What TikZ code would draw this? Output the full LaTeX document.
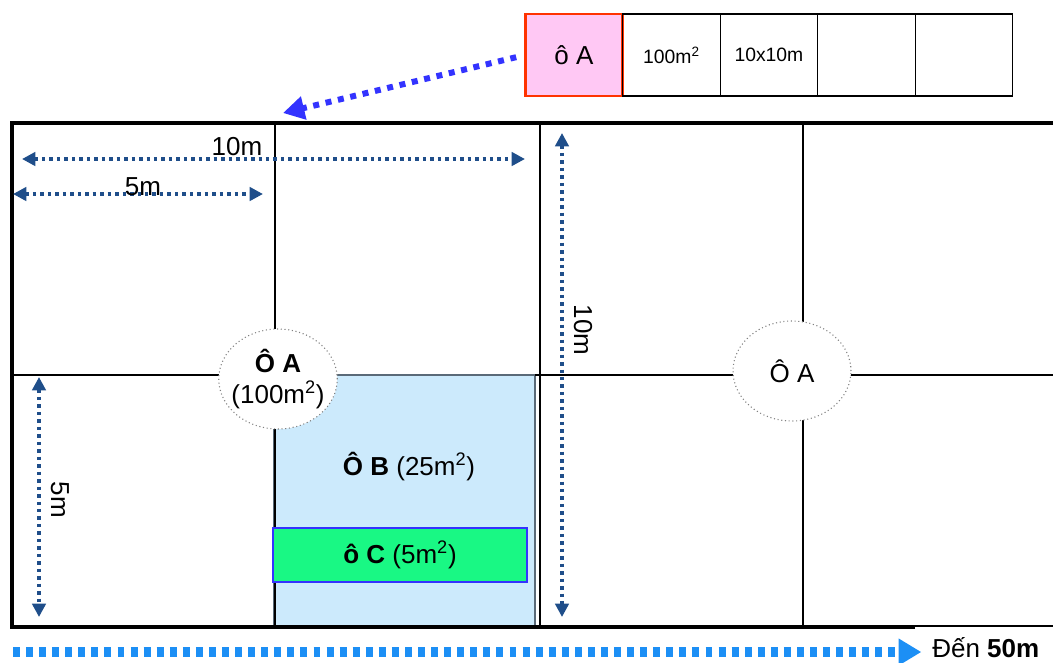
\documentclass[tikz,border=0pt]{standalone}
\usepackage{fontspec}
\setmainfont{Liberation Sans}
\usetikzlibrary{arrows.meta,positioning,shapes.geometric}
\definecolor{dimblue}{HTML}{1F4E8A}
\definecolor{linkblue}{HTML}{3333FF}
\definecolor{runblue}{HTML}{1C8FF5}
\definecolor{cellpink}{HTML}{FFC8F4}
\definecolor{cellred}{HTML}{FF3300}
\definecolor{plotblue}{HTML}{CCEAFC}
\definecolor{plotgreen}{HTML}{19F884}
\definecolor{plotedge}{HTML}{5A6A78}

\begin{document}
\begin{tikzpicture}[x=0.75pt,y=-0.75pt,
    big/.style={font=\fontsize{19.5}{23}\selectfont},
    cell/.style={rectangle,draw,line width=0.9pt,minimum width=73.1pt,minimum height=61.5pt,inner sep=0pt,outer sep=0pt,font=\fontsize{14.5}{17}\selectfont},
    keycell/.style={cell,fill=cellpink,draw=cellred,line width=2pt,big},
    oval/.style={ellipse,draw=gray,dotted,line width=0.8pt,fill=white,minimum width=88.5pt,minimum height=75pt,inner xsep=-3.5pt,inner ysep=0pt,align=center,big},
    lbl/.style={big,inner sep=0pt},
    gridline/.style={line width=1.1pt},
    frame/.style={line width=2.4pt},
    dimarrow/.style={draw=dimblue,line width=2.6pt,dash pattern=on 2.6pt off 3pt,{Triangle[length=10pt,width=10pt]}-{Triangle[length=10pt,width=10pt]}},
    linkarrow/.style={draw=linkblue,line width=4.5pt,dash pattern=on 4.5pt off 5pt,-{Triangle[length=16pt,width=17pt]}},
    runarrow/.style={draw=runblue,line width=7.5pt,dash pattern=on 5.2pt off 4.6pt,-{Triangle[length=17pt,width=19pt]}}]
  \useasboundingbox (0,0) rectangle (1053,662);

  \node[keycell] (cA) at (574,55) {ô A};
  \node[cell] (cArea) [right=0pt of cA] {100m\textsuperscript{2}};
  \node[cell] (cSize) [right=0pt of cArea] {10x10m};
  \node[cell] (cEmpty1) [right=0pt of cSize] {};
  \node[cell] (cEmpty2) [right=0pt of cEmpty1] {};

  \draw[draw=plotedge,fill=plotblue,line width=1pt] (274,375) rectangle (535,627);
  \draw[gridline] (275,123) -- (275,627);
  \draw[gridline] (540,123) -- (540,627);
  \draw[gridline] (803,123) -- (803,627);
  \draw[gridline] (12,375) -- (274,375);
  \draw[gridline] (535,375) -- (1053,375);
  \draw[frame] (1053,123) -- (12,123) -- (12,627) -- (915,627);
  \draw[gridline] (915,626) -- (1053,626);

  \node[oval] (ovalA) at (278,379) {\textbf{Ô A}\\(100m\textsuperscript{2})};
  \node[oval] (ovalA2) at (792,371) {Ô A};
  \node[lbl] (lblB) at (409,467) {\textbf{Ô B} (25m\textsuperscript{2})};
  \node[rectangle,draw=linkblue,fill=plotgreen,line width=1.6pt,minimum width=190.5pt,minimum height=40.5pt,inner sep=0pt,big] (oC) at (400,555) {\textbf{ô C} (5m\textsuperscript{2})};

  \coordinate (w10a) at (22,159);
  \coordinate (w10b) at (525,159);
  \coordinate (w5a) at (13,194);
  \coordinate (w5b) at (263,194);
  \coordinate (h10a) at (562,133);
  \coordinate (h10b) at (562,617);
  \coordinate (h5a) at (39,377);
  \coordinate (h5b) at (39,617);
  \draw[dimarrow] (w10a) -- (w10b);
  \draw[dimarrow] (w5a) -- (w5b);
  \draw[dimarrow] (h10a) -- (h10b);
  \draw[dimarrow] (h5a) -- (h5b);
  \node[lbl,anchor=base] (l10w) at (237,155) {10m};
  \node[lbl,anchor=base] (l5w) at (143,195) {5m};
  \node[lbl,rotate=-90] (l10h) at (583,330) {10m};
  \node[lbl,rotate=-90] (l5h) at (60,500) {5m};

  \coordinate (gridhit) at (283,113);
  \draw[linkarrow,shorten <=7pt] (cA.west) -- (gridhit);

  \coordinate (runstart) at (13,652);
  \node[lbl,anchor=base west] (goal) at (932,657) {Đến \textbf{50m}};
  \draw[runarrow] (runstart) -- ([xshift=-8pt]goal.west |- runstart);
\end{tikzpicture}
\end{document}
